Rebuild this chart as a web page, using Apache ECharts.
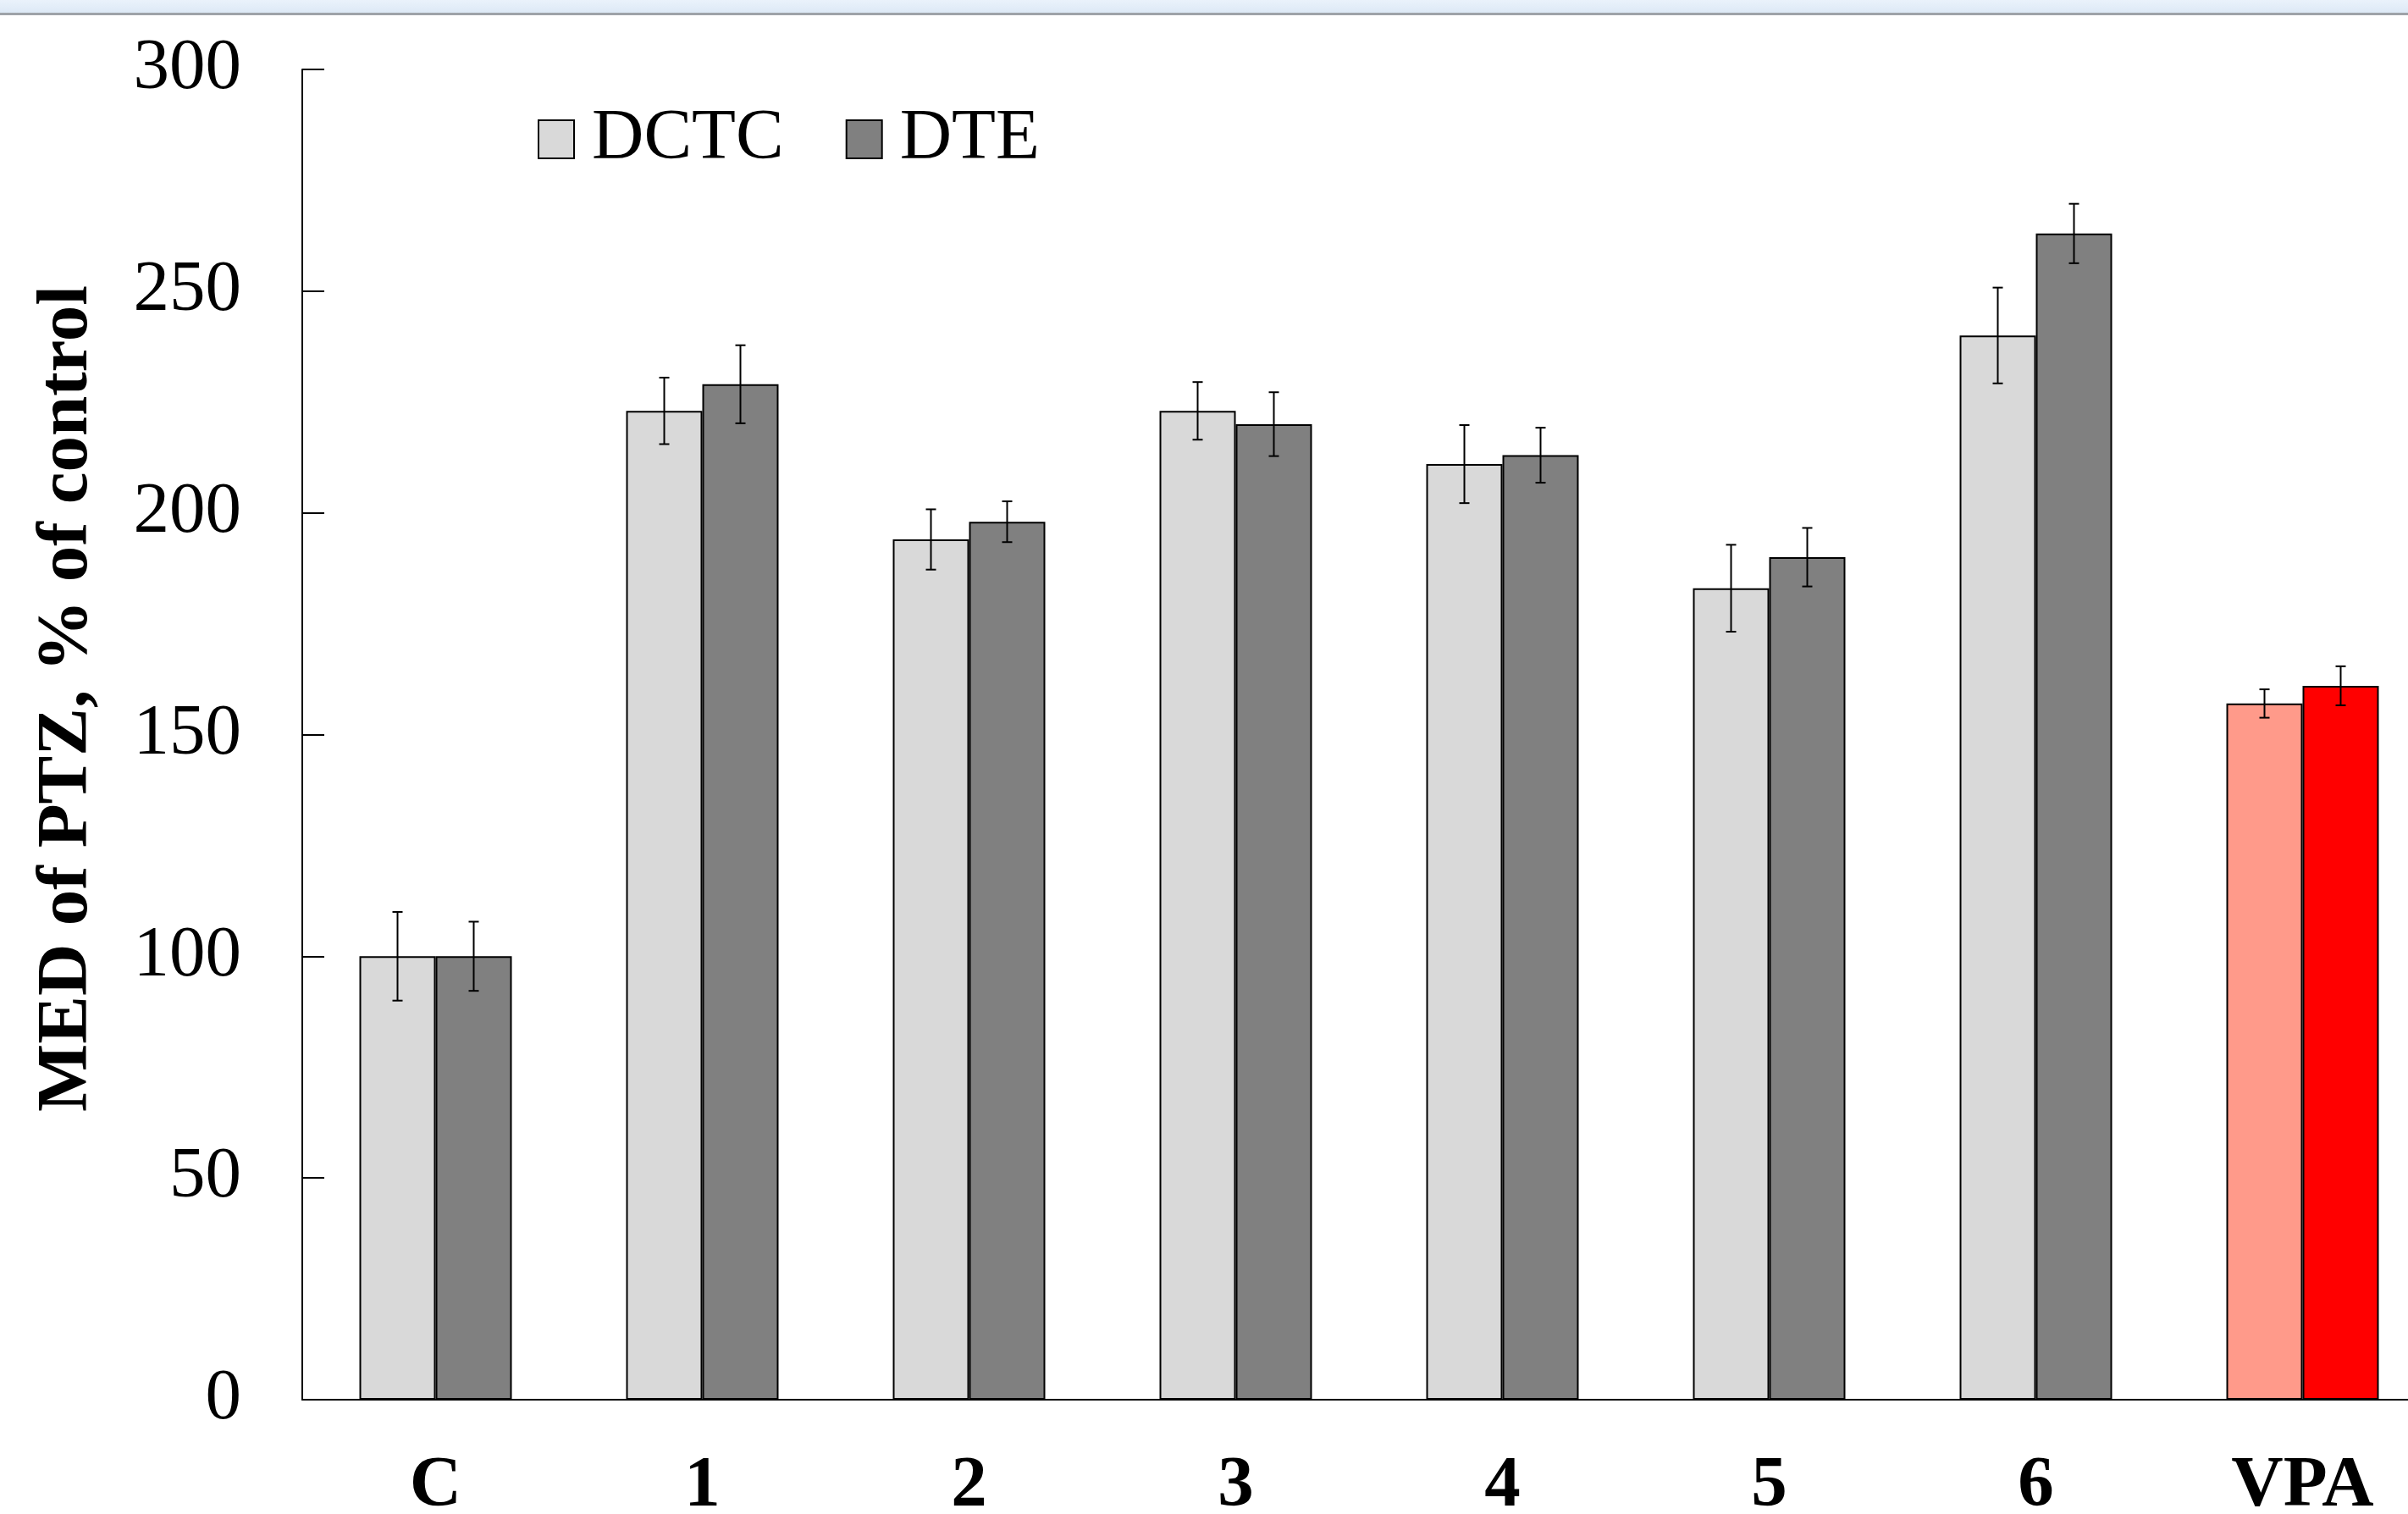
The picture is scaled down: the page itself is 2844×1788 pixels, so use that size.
<!DOCTYPE html>
<html><head><meta charset="utf-8">
<script src="https://cdn.jsdelivr.net/npm/echarts@6/dist/echarts.min.js"></script>
<style>html,body{margin:0;padding:0;background:#fff}#c{width:2844px;height:1788px}</style>
</head><body><div id="c"></div>
<script>
// ---- data ----
const categories = ['C', '1', '2', '3', '4', '5', '6', 'VPA'];
const dctcValues = [100, 223, 194, 223, 211, 183, 240, 157];
const dctcErrors = [10, 7.5, 6.8, 6.5, 8.8, 9.8, 10.8, 3.2];
const dteValues = [100, 229, 198, 220, 213, 190, 263, 161];
const dteErrors = [7.8, 8.8, 4.6, 7.2, 6.2, 6.6, 6.7, 4.4];
const seriesNames = ['DCTC', 'DTE'];
const highlightCategory = 'VPA';
const yMin = 0, yMax = 300, yStep = 50;
const yAxisTitle = 'MED of PTZ, % of control';

// ---- styles ----
const FONT = '"Liberation Serif", "Times New Roman", serif';
const baseColors = ['#d9d9d9', '#808080'];
const highlightColors = ['#ff9a8a', '#ff0000'];
const CAT_GAP = 0.4286;

function barData(values, sIdx) {
  return values.map((v, i) => categories[i] === highlightCategory
    ? { value: v, itemStyle: { color: highlightColors[sIdx] } }
    : v);
}
function errData(values, errs) {
  return values.map((v, i) => [i, v, errs[i]]);
}
function errRender(sign) {
  return function (params, api) {
    const idx = api.value(0), v = api.value(1), e = api.value(2);
    const band = api.size([1, 0])[0];
    const barW = band * (1 - CAT_GAP) / 2;
    const top = api.coord([idx, v + e]);
    const bot = api.coord([idx, v - e]);
    const x = top[0] + sign * barW / 2;
    const cap = 6;
    const st = { stroke: '#000', lineWidth: 2 };
    return {
      type: 'group', children: [
        { type: 'line', shape: { x1: x, y1: top[1], x2: x, y2: bot[1] }, style: st },
        { type: 'line', shape: { x1: x - cap, y1: top[1], x2: x + cap, y2: top[1] }, style: st },
        { type: 'line', shape: { x1: x - cap, y1: bot[1], x2: x + cap, y2: bot[1] }, style: st }
      ]
    };
  };
}

const chart = echarts.init(document.getElementById('c'), null, { renderer: 'canvas' });
chart.setOption({
  backgroundColor: '#ffffff',
  animation: false,
  textStyle: { fontFamily: FONT },
  graphic: [
    { type: 'rect', left: 0, top: 0, z: 100, shape: { width: 2844, height: 15 },
      style: { fill: new echarts.graphic.LinearGradient(0, 0, 0, 1, [{ offset: 0, color: '#eaf2fb' }, { offset: 1, color: '#dde9f6' }]) } },
    { type: 'rect', left: 0, top: 15, z: 100, shape: { width: 2844, height: 3 }, style: { fill: '#9ea3a8' } },
    { type: 'text', x: 80, y: 825, rotation: Math.PI / 2, z: 100,
      style: { text: yAxisTitle, font: 'bold 85px ' + FONT, fill: '#000', textAlign: 'center', textVerticalAlign: 'middle' } }
  ],
  legend: {
    data: seriesNames,
    left: 635, top: 122, padding: 0,
    itemWidth: 42, itemHeight: 45, itemGap: 73,
    icon: 'rect',
    textStyle: { fontFamily: FONT, fontSize: 85, color: '#000', padding: [0, 0, 0, 16] }
  },
  grid: { left: 357, top: 82, bottom: 135, width: 2520, containLabel: false, outerBoundsMode: 'none' },
  xAxis: {
    type: 'category', data: categories,
    axisLine: { lineStyle: { color: '#000', width: 2 } },
    axisTick: { show: false },
    axisLabel: { fontFamily: FONT, fontSize: 85, fontWeight: 'bold', color: '#000', margin: 61 }
  },
  yAxis: {
    type: 'value', min: yMin, max: yMax, interval: yStep,
    axisLine: { show: true, lineStyle: { color: '#000', width: 2 } },
    axisTick: { show: true, inside: true, length: 26, lineStyle: { color: '#000', width: 2 } },
    splitLine: { show: false },
    axisLabel: { fontFamily: FONT, fontSize: 85, color: '#000', margin: 72 }
  },
  series: [
    { name: seriesNames[0], type: 'bar', data: barData(dctcValues, 0), barGap: '0%', barCategoryGap: (CAT_GAP * 100) + '%',
      itemStyle: { color: baseColors[0], borderColor: '#000', borderWidth: 2 } },
    { name: seriesNames[1], type: 'bar', data: barData(dteValues, 1), barGap: '0%', barCategoryGap: (CAT_GAP * 100) + '%',
      itemStyle: { color: baseColors[1], borderColor: '#000', borderWidth: 2 } },
    { name: 'DCTC-err', type: 'custom', z: 10, data: errData(dctcValues, dctcErrors), renderItem: errRender(-1), encode: { x: 0, y: 1 } },
    { name: 'DTE-err', type: 'custom', z: 10, data: errData(dteValues, dteErrors), renderItem: errRender(1), encode: { x: 0, y: 1 } }
  ]
});
</script>
</body></html>
